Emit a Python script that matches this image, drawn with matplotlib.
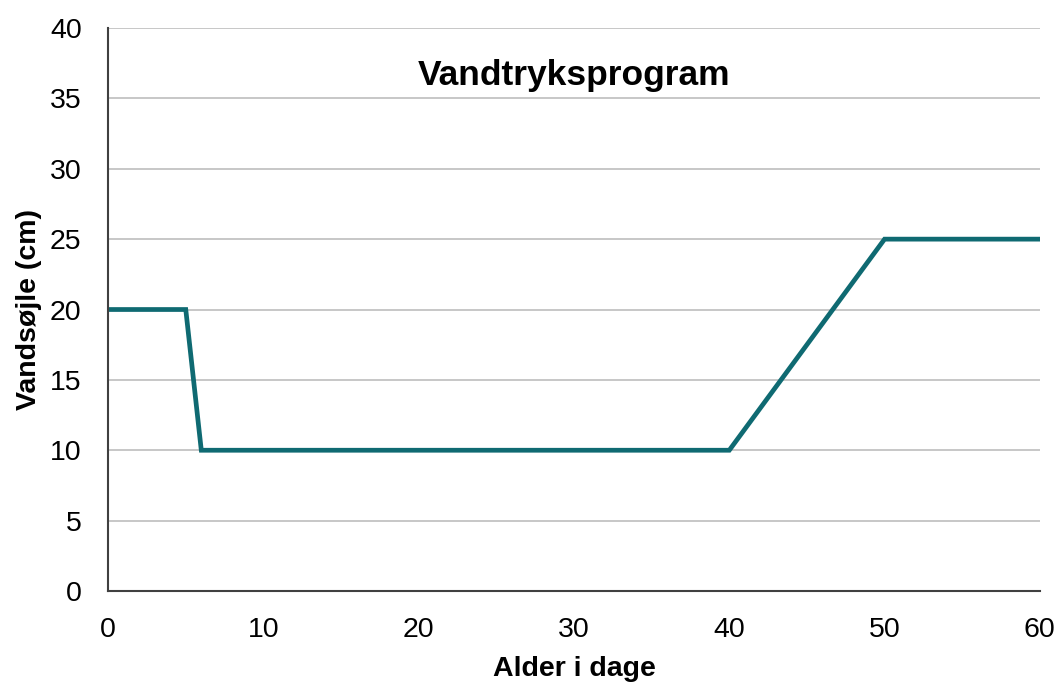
import matplotlib
matplotlib.use("Agg")
import matplotlib.pyplot as plt

plt.rcParams["font.family"] = ["Liberation Sans", "DejaVu Sans"]

days = [0, 5, 6, 40, 44, 47, 50, 60]
water_column = [20, 20, 10, 10, 16, 20.5, 25, 25]
x_ticks = [0, 10, 20, 30, 40, 50, 60]
y_ticks = [0, 5, 10, 15, 20, 25, 30, 35, 40]

fig = plt.figure(figsize=(10.6, 6.84), dpi=100)
ax = fig.add_axes([0.102, 0.136, 0.879, 0.823])

ax.plot(days, water_column, color="#0F6A72", linewidth=3.4, solid_joinstyle="miter")

ax.set_xlim(0, 60)
ax.set_ylim(0, 40)
ax.set_xticks(x_ticks)
ax.set_yticks(y_ticks)
ax.tick_params(length=0, labelsize=20.5)
ax.tick_params(axis="y", pad=19)
ax.tick_params(axis="x", pad=19)
ax.grid(axis="y", color="#BEBEBE", linewidth=1.2)
ax.set_axisbelow(True)

for side in ["top", "right"]:
    ax.spines[side].set_visible(False)
for side in ["left", "bottom"]:
    ax.spines[side].set_color("#404040")
    ax.spines[side].set_linewidth(1.5)

ax.set_xlabel("Alder i dage", fontsize=20.5, fontweight="bold", labelpad=9)
ax.set_ylabel("Vandsøjle (cm)", fontsize=20.5, fontweight="bold", labelpad=6)
ax.text(0.5, 0.915, "Vandtryksprogram", transform=ax.transAxes, ha="center",
        va="center", fontsize=25.5, fontweight="bold")

fig.savefig("out.png", dpi=100)
